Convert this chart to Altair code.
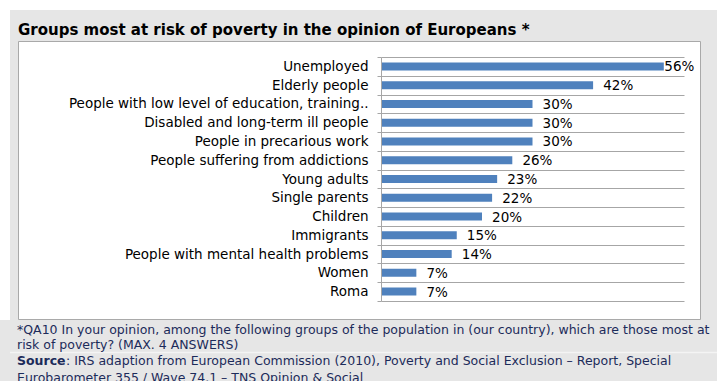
import altair as alt
import pandas as pd

categories = [
    "Unemployed",
    "Elderly people",
    "People with low level of education, training..",
    "Disabled and long-term ill people",
    "People in precarious work",
    "People suffering from addictions",
    "Young adults\u00a0",
    "Single parents",
    "Children\u00a0",
    "Immigrants",
    "People with mental health problems",
    "Women",
    "Roma",
]
values = [56, 42, 30, 30, 30, 26, 23, 22, 20, 15, 14, 7, 7]
value_labels = ["56%", "42%", "30%", "30%", "30%", "26%", "23%", "22%", "20%", "15%", "14%", "7%", "7%"]

title_text = "Groups most at risk of poverty in the opinion of Europeans *"
note_line1 = "*QA10 In your opinion, among the following groups of the population in (our country), which are those most at"
note_line2 = "risk of poverty? (MAX. 4 ANSWERS)"
source_bold = "Source"
source_line1 = ": IRS adaption from European Commission (2010), Poverty and Social Exclusion \u2013 Report, Special"
source_line2 = "Eurobarometer 355 / Wave 74.1 \u2013 TNS Opinion & Social"

df = pd.DataFrame({"group": categories, "value": values, "label": value_labels})

OX, OY = 381, 57  # plot origin in page pixels
W, H = 303, 244

BLUE = "#4F81BD"
GRID = "#a6a6a6"
LABEL_FONT = "DejaVu Sans"
NOTE_FONT = "DejaVu Sans"
NOTE_COLOR = "#1c2b5a"
NOTE_SIZE = 12.5


def px(v):
    return alt.value(v - OX)


def py(v):
    return alt.value(v - OY)


one = alt.Data(values=[{"k": 1}])

outer_bg = alt.Chart(one).mark_rect(color="#e6e6e6", clip=False).encode(
    x=px(10), x2=px(717), y=py(10), y2=py(381)
)
left_bg = alt.Chart(one).mark_rect(color="#e6e6e6", clip=False).encode(
    x=px(0), x2=px(10), y=py(320), y2=py(381)
)
sep_line = alt.Chart(one).mark_rule(color="#f4f4f4", strokeWidth=1.5, clip=False).encode(
    x=px(10), x2=px(717), y=py(352.5)
)
panel = alt.Chart(one).mark_rect(
    fill="white", stroke="#a9a9a9", strokeWidth=1, clip=False
).encode(x=px(18.5), x2=px(700.5), y=py(41.5), y2=py(319.5))


def text_layer(txt, x, y, size, weight="normal", color="black", font=LABEL_FONT):
    return alt.Chart(alt.Data(values=[{"t": txt}])).mark_text(
        align="left", baseline="alphabetic", font=font, fontSize=size,
        fontWeight=weight, color=color, clip=False
    ).encode(x=px(x), y=py(y), text="t:N")


title = text_layer(title_text, 18, 35, 15, "bold", "#000000")
n1 = text_layer(note_line1, 17, 334, NOTE_SIZE, color=NOTE_COLOR, font=NOTE_FONT)
n2 = text_layer(note_line2, 17, 349, NOTE_SIZE, color=NOTE_COLOR, font=NOTE_FONT)
s0 = text_layer(source_bold, 17, 365, NOTE_SIZE, "bold", NOTE_COLOR, NOTE_FONT)
s1 = text_layer(source_line1, 66, 365, NOTE_SIZE, color=NOTE_COLOR, font=NOTE_FONT)
s2 = text_layer(source_line2, 17, 382, NOTE_SIZE, color=NOTE_COLOR, font=NOTE_FONT)

base = alt.Chart(df)

ycat = alt.Y(
    "group:N",
    sort=categories,
    title=None,
    axis=alt.Axis(
        labelFont=LABEL_FONT,
        labelFontSize=13.5,
        labelColor="#000000",
        labelLimit=400,
        labelPadding=9,
        tickBand="extent",
        tickSize=4,
        tickColor=GRID,
        domainColor=GRID,
        gridColor=GRID,
        grid=True,
        gridWidth=1,
        zindex=1,
    ),
    scale=alt.Scale(paddingInner=0.0, paddingOuter=0.0),
)

xq = alt.Scale(domain=[0, 60], nice=False)

bars = base.mark_bar(color=BLUE, size=8).encode(
    x=alt.X("value:Q", scale=xq, axis=None),
    y=ycat,
)

labels = base.transform_calculate(
    lx="datum.value < 50 ? datum.value + 2 : datum.value + 0.1"
).mark_text(
    align="left", baseline="middle", font=LABEL_FONT, fontSize=13.5, color="#000000", dy=1
).encode(
    x=alt.X("lx:Q", scale=xq, axis=None),
    y=ycat,
    text="label:N",
)

chart = alt.layer(
    outer_bg, left_bg, sep_line, panel, title, n1, n2, s0, s1, s2, bars, labels
).properties(
    width=W,
    height=H,
    autosize=alt.AutoSizeParams(type="none"),
    padding={"left": OX, "top": OY, "right": 717 - OX - W, "bottom": 381 - OY - H},
    background="white",
).configure_view(stroke=None)

chart.save("out.html", embed_options={"renderer": "svg", "actions": False})
